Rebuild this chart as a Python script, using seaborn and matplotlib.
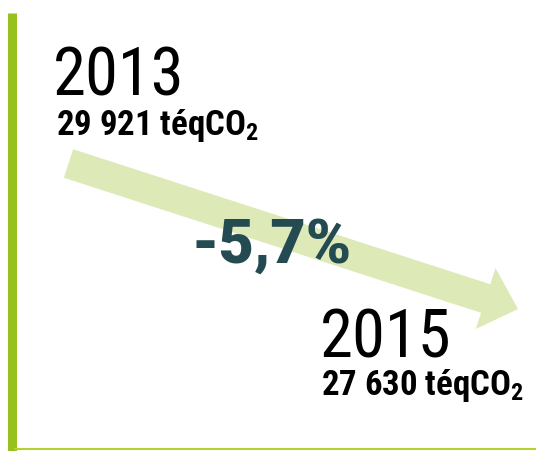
import matplotlib
matplotlib.use("Agg")
import matplotlib.pyplot as plt
from matplotlib.patches import FancyArrow
import seaborn as sns

# === Data ===
years = ["2013", "2015"]
values = ["29 921", "27 630"]
unit = "téqCO$_2$"
change_label = "-5,7%"

# === Style ===
sns.set_theme(style="white")
cond = ["Roboto Condensed", "DejaVu Sans"]
plt.rcParams["font.family"] = cond
plt.rcParams["mathtext.fontset"] = "custom"
plt.rcParams["mathtext.rm"] = "Roboto Condensed:bold"
plt.rcParams["mathtext.it"] = "Roboto Condensed:bold"
plt.rcParams["mathtext.bf"] = "Roboto Condensed:bold"

bar_green = "#97c11f"
arrow_green = "#dde9b6"
teal = "#244b51"

fig = plt.figure(figsize=(5.36, 4.51), dpi=100)
ax = fig.add_axes([0, 0, 1, 1])
ax.set_xlim(0, 536)
ax.set_ylim(451, 0)
ax.axis("off")

# frame: left bar + bottom line
ax.plot([12, 12], [13, 451], color=bar_green, lw=6.5, solid_capstyle="butt")
ax.plot([15, 536], [449, 449], color="#b3d335", lw=1.5)

# arrow from 2013 block to 2015 block
tail = (68.5, 163.5)
tip = (518, 309)
ax.add_patch(FancyArrow(tail[0], tail[1], tip[0] - tail[0], tip[1] - tail[1],
                        width=30, head_width=64, head_length=34,
                        length_includes_head=True, color=arrow_green, lw=0))

# labels
pos = [(53, 95, 56, 135), (320, 357, 321, 395)]
for (yr, val), (xy, yy, xv, yv) in zip(zip(years, values), pos):
    ax.text(xy, yy, yr, fontsize=48, color="black", ha="left", va="baseline")
    ax.text(xv, yv, f"{val} {unit}", fontsize=25, fontweight="bold",
            color="black", ha="left", va="baseline")

ax.text(191, 263, change_label, fontsize=44, fontweight=900, color=teal,
        family=["Roboto", "DejaVu Sans"], ha="left", va="baseline")

fig.savefig("out.png", dpi=100)
